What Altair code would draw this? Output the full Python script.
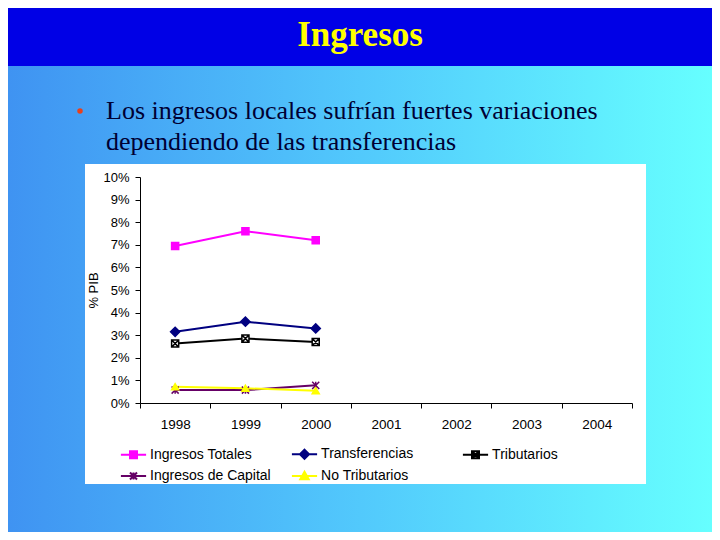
import altair as alt
import pandas as pd

# ---- data (% del PIB) ----
years = [1998, 1999, 2000]
series_names = ["Ingresos Totales", "Transferencias", "Tributarios",
                "Ingresos de Capital", "No Tributarios"]
ingresos_totales = [6.95, 7.6, 7.2]
transferencias = [3.15, 3.6, 3.3]
tributarios = [2.63, 2.85, 2.7]
ingresos_capital = [0.57, 0.57, 0.78]
no_tributarios = [0.72, 0.65, 0.54]

x_ticks = [1997.5, 1998, 1998.5, 1999, 1999.5, 2000, 2000.5, 2001, 2001.5,
           2002, 2002.5, 2003, 2003.5, 2004, 2004.5]
y_ticks = list(range(0, 11))

title_text = "Ingresos"
bullet_lines = ["Los ingresos locales sufrían fuertes variaciones",
                "dependiendo de las transferencias"]

# ---- styles ----
stroke_colors = ["#ff00ff", "#000080", "#000000", "#660066", "#ffff00"]
fill_colors = ["#ff00ff", "#000080", "#ffffff", "#660066", "#ffff00"]
point_shapes = ["square", "M-1.3,0L0,-1.3L1.3,0L0,1.3Z",
                "M-1,-1H1V1H-1ZM-1,-1L1,1M1,-1L-1,1",
                "M-1,-1L1,1M1,-1L-1,1M0,-1V1",
                "triangle-up"]
legend_shapes = ["M-1.8,0H1.8M-0.5,-0.5H0.5V0.5H-0.5Z",
                 "M-1.8,0H1.8M0,-0.65L0.65,0L0,0.65L-0.65,0Z",
                 "M-1.8,0H1.8M-0.5,-0.5H0.5V0.5H-0.5ZM-0.5,-0.5L0.5,0.5M0.5,-0.5L-0.5,0.5",
                 "M-1.8,0H1.8M-0.5,-0.5L0.5,0.5M0.5,-0.5L-0.5,0.5M0,-0.5V0.5",
                 "M-1.8,0H1.8M0,-0.6L0.6,0.45H-0.6Z"]

values = [ingresos_totales, transferencias, tributarios, ingresos_capital, no_tributarios]
rows = []
for name, vals in zip(series_names, values):
    for yr, v in zip(years, vals):
        rows.append({"year": yr, "valor": v, "serie": name, "serie2": name})
df = pd.DataFrame(rows)

W, H = 492, 226
PL, PT = 132, 169
TOTAL_W, TOTAL_H = 704, 524

one = pd.DataFrame({"k": [0]})

x_enc = alt.X("year:Q",
              scale=alt.Scale(domain=[1997.5, 2004.5], nice=False, zero=False),
              axis=alt.Axis(values=x_ticks, title=None, grid=False, zindex=2,
                            labelExpr="datum.value % 1 == 0 ? '' + datum.value : ''",
                            tickOpacity={"condition": {"test": "datum.value % 1 != 0", "value": 1}, "value": 0},
                            labelOverlap=False, labelFlush=False,
                            tickSize=5, labelPadding=9, labelFontSize=13.5))
y_enc = alt.Y("valor:Q",
              scale=alt.Scale(domain=[0, 10], nice=False, zero=True),
              axis=alt.Axis(values=y_ticks, title="% PIB", grid=False, zindex=2,
                            labelExpr="datum.value + '%'", tickSize=5,
                            labelPadding=6, labelFontSize=13,
                            titleFontSize=13, titleFontWeight="normal",
                            titlePadding=2))

grad = alt.LinearGradient(gradient="linear", x1=0, y1=0, x2=1, y2=0,
                          stops=[alt.GradientStop(offset=0, color="#3f93f2"),
                                 alt.GradientStop(offset=0.5, color="#52c9fc"),
                                 alt.GradientStop(offset=1, color="#66ffff")])

bg = alt.Chart(one).mark_rect(fill=grad).encode(
    x=alt.value(-PL), x2=alt.value(TOTAL_W - PL),
    y=alt.value(-PT), y2=alt.value(TOTAL_H - PT))
bar = alt.Chart(one).mark_rect(fill="#0000e6").encode(
    x=alt.value(-PL), x2=alt.value(TOTAL_W - PL),
    y=alt.value(-PT), y2=alt.value(66 - 177))
title = alt.Chart(one).mark_text(font="Liberation Serif", fontSize=35, fontWeight="bold",
                                 color="#ffff00", align="center", baseline="alphabetic").encode(
    x=alt.value(360 - 140), y=alt.value(46 - 177), text=alt.value(title_text))
bullet = alt.Chart(one).mark_point(filled=True, shape="circle", size=30, color="#e8401c",
                                   opacity=1).encode(x=alt.value(80 - 140), y=alt.value(111 - 177))
line1 = alt.Chart(one).mark_text(font="Liberation Serif", fontSize=26, color="#000033",
                                 align="left", baseline="alphabetic").encode(
    x=alt.value(106 - 140), y=alt.value(119 - 177), text=alt.value(bullet_lines[0]))
line2 = alt.Chart(one).mark_text(font="Liberation Serif", fontSize=26, color="#000033",
                                 align="left", baseline="alphabetic").encode(
    x=alt.value(106 - 140), y=alt.value(150 - 177), text=alt.value(bullet_lines[1]))
box = alt.Chart(one).mark_rect(fill="white").encode(
    x=alt.value(85 - 140), x2=alt.value(646 - 140),
    y=alt.value(164 - 177), y2=alt.value(484 - 177))

stroke_scale = alt.Scale(domain=series_names, range=stroke_colors)
fill_scale = alt.Scale(domain=series_names, range=fill_colors)

lines = alt.Chart(df).mark_line(strokeWidth=2).encode(
    x=x_enc, y=y_enc,
    stroke=alt.Stroke("serie:N", scale=stroke_scale, legend=None),
    order=alt.Order("year:Q"),
    detail="serie:N")
points = alt.Chart(df).mark_point(size=50, strokeWidth=1.5, opacity=1).encode(
    x=x_enc, y=y_enc,
    stroke=alt.Stroke("serie:N", scale=stroke_scale, legend=None),
    fill=alt.Fill("serie:N", scale=fill_scale, legend=None),
    shape=alt.Shape("serie:N", scale=alt.Scale(domain=series_names, range=point_shapes), legend=None))

leg = alt.Legend(orient="none", legendX=-14.5, legendY=269, columns=3, title=None,
                 direction="horizontal",
                 symbolSize=196, symbolStrokeWidth=2, labelFont="Liberation Sans",
                 labelFontSize=14, labelOffset=8.6, columnPadding=16, rowPadding=4,
                 gridAlign="all", padding=0, labelColor="black", labelLimit=300)
legend_layer = alt.Chart(df).mark_point(opacity=1, strokeWidth=2).encode(
    x=x_enc, y=y_enc,
    stroke=alt.Stroke("serie2:N", scale=stroke_scale, legend=leg),
    fill=alt.Fill("serie2:N", scale=fill_scale, legend=leg),
    shape=alt.Shape("serie2:N", scale=alt.Scale(domain=series_names, range=legend_shapes), legend=leg),
).transform_filter("false")

chart = alt.layer(bg, bar, title, bullet, line1, line2, box, lines, points, legend_layer).resolve_scale(
    stroke="independent", fill="independent", shape="independent"
).properties(
    width=W, height=H,
    autosize=alt.AutoSizeParams(type="none"),
    padding={"left": PL, "top": PT, "right": TOTAL_W - PL - W, "bottom": TOTAL_H - PT - H},
).configure_view(stroke="transparent").configure_axis(
    labelFont="Liberation Sans", titleFont="Liberation Sans",
    labelColor="black", titleColor="black", domainColor="black", tickColor="black",
    domainWidth=1, tickWidth=1)

chart.save("out.html", embed_options={"renderer": "svg", "actions": False})
